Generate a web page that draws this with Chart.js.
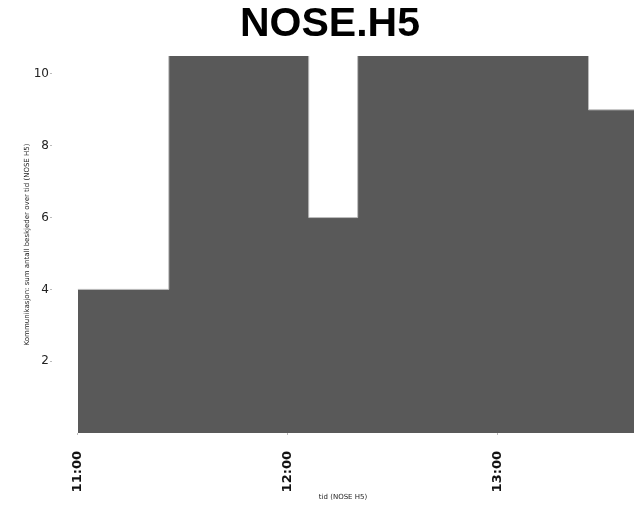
<!DOCTYPE html>
<html>
<head>
<meta charset="utf-8">
<script src="https://cdn.jsdelivr.net/npm/chart.js@4/dist/chart.umd.min.js"></script>
<style>
  html, body { margin: 0; padding: 0; background: #fff; }
  #wrap { width: 641px; height: 507px; position: relative; }
</style>
</head>
<body>
<div id="wrap"><canvas id="noseChart"></canvas></div>
<script>
// minutes after 11:00 where each step starts (last one is the end of the series)
const stepMinutes = [0, 26, 66, 80, 146, 159];
const stepValues = [4, 11, 6, 11, 9, 9];
const xTickValues = [0, 60, 120];
const xTickLabels = ["11:00", "12:00", "13:00"];
const yTickValues = [2, 4, 6, 8, 10];

document.addEventListener("DOMContentLoaded", function () {
  const ctx = document.getElementById("noseChart").getContext("2d");
  const points = stepMinutes.map((m, i) => ({ x: m, y: stepValues[i] }));

  new Chart(ctx, {
    type: "line",
    data: {
      datasets: [
        {
          data: points,
          stepped: true,
          fill: "origin",
          backgroundColor: "#595959",
          borderColor: "rgba(190, 190, 190, 0.9)",
          borderWidth: 1,
          pointRadius: 0,
        },
      ],
    },
    options: {
      responsive: true,
      maintainAspectRatio: false,
      animation: false,
      // left padding pushes the title centre right, like the reference
      layout: { padding: { left: 26, right: 7, top: 0, bottom: 0 } },
      plugins: {
        legend: { display: false },
        tooltip: { enabled: false },
        title: {
          display: true,
          text: "NOSE.H5",
          color: "#000",
          font: { family: "Liberation Sans", size: 41, weight: "bold", lineHeight: 1.2 },
          padding: { top: 0, bottom: 6.8 },
        },
      },
      scales: {
        x: {
          type: "linear",
          min: -7.4,
          max: 159,
          afterFit: (s) => { s.height = 74; },
          afterBuildTicks: (axis) => {
            axis.ticks = xTickValues.map((v) => ({ value: v }));
          },
          ticks: {
            minRotation: 90,
            maxRotation: 90,
            padding: 16,
            color: "#111",
            font: { family: "DejaVu Sans", size: 13, weight: "bold" },
            callback: (v) => {
              const i = xTickValues.indexOf(v);
              return i >= 0 ? xTickLabels[i] : "";
            },
          },
          grid: { drawOnChartArea: false, tickLength: 2, color: "#bbb" },
          border: { display: false },
          title: {
            display: true,
            text: "tid (NOSE H5)",
            color: "#222",
            font: { family: "DejaVu Sans", size: 7 },
            padding: { top: 2, bottom: 6 },
          },
        },
        y: {
          min: 0,
          max: 10.5,
          afterFit: (s) => { s.width = 26; },
          afterBuildTicks: (axis) => {
            axis.ticks = yTickValues.map((v) => ({ value: v }));
          },
          ticks: {
            padding: 1,
            color: "#222",
            font: { family: "DejaVu Sans", size: 12 },
          },
          grid: { drawOnChartArea: false, tickLength: 2, color: "#bbb" },
          border: { display: false },
          title: {
            display: true,
            text: "Kommunikasjon: sum antall beskjeder over tid (NOSE H5)",
            color: "#222",
            font: { family: "DejaVu Sans", size: 7 },
            padding: { top: -3, bottom: 0 },
          },
        },
      },
    },
  });
});
</script>
</body>
</html>
